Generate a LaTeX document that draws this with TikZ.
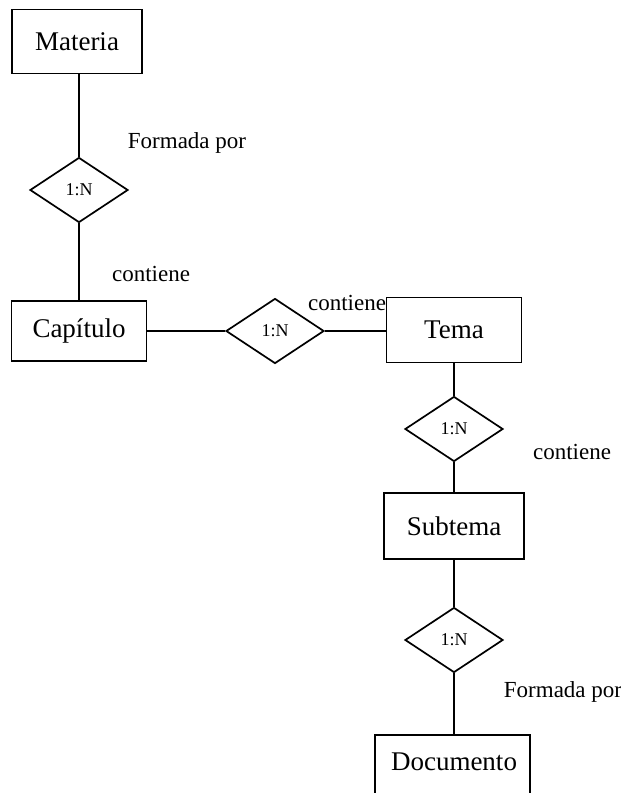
\documentclass[tikz,border=0pt]{standalone}
\usepackage{fontspec}
\setmainfont{Liberation Serif}
\usepackage{tikz}
\usetikzlibrary{arrows.meta}
\usetikzlibrary{calc}
\usetikzlibrary{shapes}

\begin{document}
\begin{tikzpicture}[x=1pt, y=-1pt, line width=1.3pt,
        entity_style/.style={rectangle,draw=black,inner sep=0pt,minimum width=135pt,minimum height=64pt,font=\fontsize{27}{30}\selectfont},
        relation_style/.style={diamond,draw=black,line width=1.7pt,inner sep=0pt,minimum width=98pt,minimum height=65pt,font=\fontsize{18}{20}\selectfont},
        label_style/.style={font=\fontsize{23}{26}\selectfont},
        edge_style/.style={draw=black, line width=1.3pt}]

        \useasboundingbox (0,0) rectangle (621,793);

        \node [entity_style, minimum width=130pt](materia) at (77,41.5) {Materia};

        \node [relation_style](r1) at (79,190) {1:N};

        \node [entity_style, minimum height=60pt](capitulo) at (79,331) {Capítulo};

        \node [relation_style](r2) at (275,331) {1:N};

        \node [entity_style, minimum height=65pt](tema) at (454,330) {Tema};

        \node [relation_style](r3) at (454,429) {1:N};

        \node [entity_style, minimum width=140pt, minimum height=66pt](subtema) at (454,526) {Subtema};

        \node [relation_style](r4) at (454,640) {1:N};

        \node [entity_style, minimum width=155pt, minimum height=80pt](documento) at (452.5,775) {};
        \node [font=\fontsize{27}{30}\selectfont](doctext) at (454,762) {Documento};

        \node [label_style](l1) at (187,143) {Formada por};

        \node [label_style](l2) at (151,274) {contiene};

        \node [label_style](l3) at (347,303) {contiene};

        \node [label_style](l4) at (572,452) {contiene};

        \node [label_style](l5) at (563,692) {Formada por};

        \draw [edge_style] (materia.south -| r1) -- (r1.north);

        \draw [edge_style] (r1.south) -- (capitulo.north);

        \draw [edge_style] (capitulo.east) -- (r2.west);

        \draw [edge_style] (r2.east) -- (r2.east -| tema.west);

        \draw [edge_style] (tema.south) -- (r3.north);

        \draw [edge_style] (r3.south) -- (subtema.north);

        \draw [edge_style] (subtema.south) -- (r4.north);

        \draw [edge_style] (r4.south) -- (r4.south |- documento.north);

\end{tikzpicture}
\end{document}
